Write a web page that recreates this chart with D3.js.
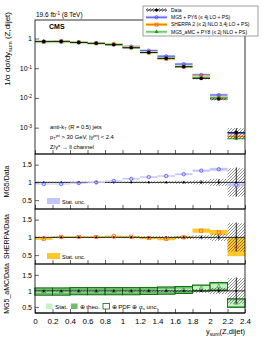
<!DOCTYPE html>
<html>
<head>
<meta charset="utf-8">
<script src="https://cdn.jsdelivr.net/npm/d3@7"></script>
<style>
body { margin: 0; background: #fff; }
text { font-family: "Liberation Sans", Arial, sans-serif; }
</style>
</head>
<body>
<div id="target"></div>
<script>
// bins in y_sum(Z,dijet)
const binEdges = [0, 0.2, 0.4, 0.6, 0.8, 1.0, 1.2, 1.4, 1.6, 1.8, 2.0, 2.2, 2.4];
const xTicks = [0, 0.2, 0.4, 0.6, 0.8, 1, 1.2, 1.4, 1.6, 1.8, 2, 2.2, 2.4];

// normalised cross section (data) and relative uncertainties
const dataVals = [0.80, 0.80, 0.74, 0.69, 0.62, 0.49, 0.34, 0.215, 0.112, 0.045, 0.0092, 0.00069];
const dataStat = [0.005, 0.005, 0.005, 0.006, 0.008, 0.01, 0.012, 0.015, 0.02, 0.03, 0.06, 0.4];
const dataSyst = [0.02, 0.02, 0.02, 0.02, 0.02, 0.025, 0.03, 0.035, 0.045, 0.06, 0.1, 0.4];

// MC / data ratios
const mg5Ratio = [0.955, 0.955, 0.98, 1.0, 1.04, 1.10, 1.15, 1.18, 1.23, 1.33, 1.37, 0.93];
const mg5Stat = [0.015, 0.015, 0.015, 0.015, 0.015, 0.02, 0.02, 0.02, 0.025, 0.03, 0.04, 0.04];
const sherpaRatio = [0.96, 1.01, 1.01, 1.01, 1.03, 1.02, 0.98, 0.96, 1.0, 1.19, 1.14, 0.73];
const sherpaStat = [0.03, 0.02, 0.02, 0.02, 0.02, 0.02, 0.03, 0.04, 0.03, 0.06, 0.07, 0.26];
const amcRatio = [0.98, 0.98, 0.99, 0.99, 0.99, 0.99, 1.0, 1.01, 1.03, 1.09, 1.14, 0.62];
const amcStat = [0.03, 0.03, 0.03, 0.03, 0.03, 0.03, 0.03, 0.04, 0.04, 0.06, 0.07, 0.09];
const amcTheo = [0.1, 0.1, 0.1, 0.1, 0.1, 0.1, 0.1, 0.1, 0.1, 0.08, 0.11, 0.12];
const amcTot = [0.11, 0.11, 0.11, 0.11, 0.11, 0.11, 0.11, 0.11, 0.11, 0.09, 0.12, 0.13];

const yMainTicks = [1, 0.1, 0.01, 0.001];
const yMainLabels = [["1", ""], ["10", "-1"], ["10", "-2"], ["10", "-3"]];
const yRatioTicks = [0.5, 1, 1.5];

const width = 266, height = 344;
const left = 35, right = 245;

const svg = d3.select("#target").append("svg")
    .attr("width", width).attr("height", height);
svg.append("rect").attr("width", width).attr("height", height).attr("fill", "#fff");

const defs = svg.append("defs");
defs.append("pattern").attr("id", "hatch").attr("patternUnits", "userSpaceOnUse")
    .attr("width", 3).attr("height", 3)
    .append("path").attr("d", "M-1,1 l2,-2 M0,3 l3,-3 M2,4 l2,-2")
    .attr("stroke", "#444").attr("stroke-width", 0.6);

const bins = dataVals.map((v, i) => ({
    lo: binEdges[i], hi: binEdges[i + 1], c: (binEdges[i] + binEdges[i + 1]) / 2, i: i
}));

let x = d3.scaleLinear().domain([0, 2.4]).range([left, right]);

let yMain = d3.scaleLog().domain([1.3e-4, 4.2]).range([154, 20]);
let yR1 = d3.scaleLinear().domain([0.25, 1.8]).range([209, 154]);
let yR2 = d3.scaleLinear().domain([0.25, 1.8]).range([264, 209]);
let yR3 = d3.scaleLinear().domain([0.31, 1.84]).range([313, 264]);

const C = {
    mg5: "#3a3aff", mg5Band: "#c4c4ff",
    sh: "#ff5a1f", shBand: "#ffc82a",
    amc: "#1f9a1f", amcBand: "#c6f2c6", amcTheo: "#6cbf6c", amcLine: "#0b6b0b"
};

function rich(t, parts, size) {
    parts.forEach(p => {
        const ts = t.append("tspan").text(p[0]);
        if (p[1] === "sub") ts.attr("font-size", size * 0.7).attr("baseline-shift", "-30%");
        if (p[1] === "sup") ts.attr("font-size", size * 0.7).attr("baseline-shift", "45%");
    });
    return t;
}

// ---------- frames + axes ----------
function xAxis(yPos, labels) {
    const g = svg.append("g").attr("transform", `translate(0,${yPos})`);
    g.call(d3.axisBottom(x).tickValues(d3.range(0, 2.401, 0.05)).tickSize(-2).tickFormat(""));
    g.call(d3.axisBottom(x).tickValues(xTicks).tickSize(-4)
        .tickFormat(labels ? (d => +d.toFixed(1)) : ""));
    g.select(".domain").remove();
    g.selectAll("line").attr("stroke", "#000").attr("stroke-width", 0.6);
    g.selectAll("text").attr("font-size", 8).attr("dy", "1.1em").attr("fill", "#000");
    g.selectAll(".tick text").attr("y", 2);
}

function yRatioAxis(scale) {
    const g = svg.append("g").attr("transform", `translate(${left},0)`);
    const d = scale.domain();
    g.call(d3.axisLeft(scale).tickValues(d3.range(0.3, d[1], 0.1)).tickSize(-2).tickFormat(""));
    g.call(d3.axisLeft(scale).tickValues(yRatioTicks).tickSize(-4).tickFormat(d => d));
    g.select(".domain").remove();
    g.selectAll("line").attr("stroke", "#000").attr("stroke-width", 0.6);
    g.selectAll("text").attr("font-size", 7).attr("fill", "#000").attr("x", -3);
}

// main panel log axis
const gy = svg.append("g").attr("transform", `translate(${left},0)`);
gy.call(d3.axisLeft(yMain).tickValues(yMain.ticks()).tickSize(-2).tickFormat(""));
gy.call(d3.axisLeft(yMain).tickValues(yMainTicks).tickSize(-4).tickFormat(""));
gy.select(".domain").remove();
gy.selectAll("line").attr("stroke", "#000").attr("stroke-width", 0.6);
yMainTicks.forEach((v, i) => {
    const t = svg.append("text").attr("x", left - 3).attr("y", yMain(v) + 2.5)
        .attr("text-anchor", "end").attr("font-size", 7);
    rich(t, [[yMainLabels[i][0]], [yMainLabels[i][1], "sup"]], 7);
});

xAxis(154, false);
xAxis(209, false);
xAxis(264, false);
xAxis(313, true);
yRatioAxis(yR1);
yRatioAxis(yR2);
yRatioAxis(yR3);

// ---------- main panel ----------
const gm = svg.append("g");
function mcMain(ratio, stat, line, band) {
    gm.selectAll(null).data(bins).join("rect")
        .attr("x", d => x(d.lo)).attr("width", d => x(d.hi) - x(d.lo))
        .attr("y", d => yMain(dataVals[d.i] * ratio[d.i]) - 1.2)
        .attr("height", 2.4).attr("fill", band);
    gm.selectAll(null).data(bins).join("line")
        .attr("x1", d => x(d.lo)).attr("x2", d => x(d.hi))
        .attr("y1", d => yMain(dataVals[d.i] * ratio[d.i]))
        .attr("y2", d => yMain(dataVals[d.i] * ratio[d.i]))
        .attr("stroke", line).attr("stroke-width", 0.8);
    gm.selectAll(null).data(bins).join("line")
        .attr("x1", d => x(d.c)).attr("x2", d => x(d.c))
        .attr("y1", d => yMain(dataVals[d.i] * ratio[d.i] * (1 - stat[d.i])))
        .attr("y2", d => yMain(dataVals[d.i] * ratio[d.i] * (1 + stat[d.i])))
        .attr("stroke", line).attr("stroke-width", 0.8);
}
mcMain(mg5Ratio, mg5Stat, C.mg5, C.mg5Band);
mcMain(sherpaRatio, sherpaStat, C.sh, C.shBand);
mcMain(amcRatio, amcStat, C.amc, C.amcBand);

// markers in main panel
gm.selectAll(null).data(bins).join("circle")
    .attr("cx", d => x(d.c)).attr("cy", d => yMain(dataVals[d.i] * mg5Ratio[d.i]))
    .attr("r", 1.6).attr("fill", "none").attr("stroke", C.mg5).attr("stroke-width", 0.7);
gm.selectAll(null).data(bins).join("rect")
    .attr("x", d => x(d.c) - 1.5).attr("y", d => yMain(dataVals[d.i] * sherpaRatio[d.i]) - 1.5)
    .attr("width", 3).attr("height", 3).attr("fill", "none").attr("stroke", C.sh).attr("stroke-width", 0.7);
gm.selectAll(null).data(bins).join("path")
    .attr("transform", d => `translate(${x(d.c)},${yMain(dataVals[d.i] * amcRatio[d.i])})`)
    .attr("d", d3.symbol(d3.symbolTriangle, 7)).attr("fill", C.amc);

// data
gm.selectAll(null).data(bins).join("rect")
    .attr("x", d => x(d.lo)).attr("width", d => x(d.hi) - x(d.lo))
    .attr("y", d => yMain(dataVals[d.i] * (1 + dataSyst[d.i])))
    .attr("height", d => yMain(dataVals[d.i] * (1 - dataSyst[d.i])) - yMain(dataVals[d.i] * (1 + dataSyst[d.i])))
    .attr("fill", "url(#hatch)");
gm.selectAll(null).data(bins).join("line")
    .attr("x1", d => x(d.lo)).attr("x2", d => x(d.hi))
    .attr("y1", d => yMain(dataVals[d.i])).attr("y2", d => yMain(dataVals[d.i]))
    .attr("stroke", "#000").attr("stroke-width", 0.8);
gm.selectAll(null).data(bins).join("line")
    .attr("x1", d => x(d.c)).attr("x2", d => x(d.c))
    .attr("y1", d => yMain(dataVals[d.i] * (1 - dataStat[d.i])))
    .attr("y2", d => yMain(dataVals[d.i] * (1 + dataStat[d.i])))
    .attr("stroke", "#000").attr("stroke-width", 0.8);
gm.selectAll(null).data(bins).join("circle")
    .attr("cx", d => x(d.c)).attr("cy", d => yMain(dataVals[d.i]))
    .attr("r", 1.8).attr("fill", "#000");

// ---------- ratio panels ----------
function dataRatio(ys) {
    const g = svg.append("g");
    g.selectAll(null).data(bins).join("rect")
        .attr("x", d => x(d.lo)).attr("width", d => x(d.hi) - x(d.lo))
        .attr("y", d => ys(1 + dataSyst[d.i]))
        .attr("height", d => ys(1 - dataSyst[d.i]) - ys(1 + dataSyst[d.i]))
        .attr("fill", "url(#hatch)");
    g.append("line").attr("x1", left).attr("x2", right)
        .attr("y1", ys(1)).attr("y2", ys(1)).attr("stroke", "#000").attr("stroke-width", 0.8);
    g.selectAll(null).data(bins).join("line")
        .attr("x1", d => x(d.c)).attr("x2", d => x(d.c))
        .attr("y1", d => ys(1 - dataStat[d.i])).attr("y2", d => ys(1 + dataStat[d.i]) - 0.8)
        .attr("stroke", "#000").attr("stroke-width", 0.8);
    g.selectAll(null).data(bins).join("circle")
        .attr("cx", d => x(d.c)).attr("cy", ys(1)).attr("r", 1).attr("fill", "#000");
    return g;
}

// MG5 panel
const g1 = svg.append("g");
g1.selectAll(null).data(bins).join("rect")
    .attr("x", d => x(d.lo)).attr("width", d => x(d.hi) - x(d.lo))
    .attr("y", d => yR1(mg5Ratio[d.i] + mg5Stat[d.i]))
    .attr("height", d => yR1(mg5Ratio[d.i] - mg5Stat[d.i]) - yR1(mg5Ratio[d.i] + mg5Stat[d.i]))
    .attr("fill", C.mg5Band);
dataRatio(yR1);
g1.raise();
svg.append("g").selectAll(null).data(bins).join("circle")
    .attr("cx", d => x(d.c)).attr("cy", d => yR1(mg5Ratio[d.i]))
    .attr("r", 1.7).attr("fill", "none").attr("stroke", C.mg5).attr("stroke-width", 0.7);

// SHERPA panel
const g2 = svg.append("g");
g2.selectAll(null).data(bins).join("rect")
    .attr("x", d => x(d.lo)).attr("width", d => x(d.hi) - x(d.lo))
    .attr("y", d => yR2(sherpaRatio[d.i] + sherpaStat[d.i]))
    .attr("height", d => yR2(sherpaRatio[d.i] - sherpaStat[d.i]) - yR2(sherpaRatio[d.i] + sherpaStat[d.i]))
    .attr("fill", C.shBand);
dataRatio(yR2);
svg.append("g").selectAll(null).data(bins).join("rect")
    .attr("x", d => x(d.c) - 1.6).attr("y", d => yR2(sherpaRatio[d.i]) - 1.6)
    .attr("width", 3.2).attr("height", 3.2)
    .attr("fill", "none").attr("stroke", C.sh).attr("stroke-width", 0.7);

// MG5_aMC panel
const g3 = svg.append("g");
function amcBox(unc, fill, stroke) {
    g3.selectAll(null).data(bins).join("rect")
        .attr("x", d => x(d.lo)).attr("width", d => x(d.hi) - x(d.lo))
        .attr("y", d => yR3(amcRatio[d.i] + unc[d.i]))
        .attr("height", d => yR3(amcRatio[d.i] - unc[d.i]) - yR3(amcRatio[d.i] + unc[d.i]))
        .attr("fill", fill).attr("stroke", stroke).attr("stroke-width", 0.8);
}
amcBox(amcTot, "none", C.amcLine);
amcBox(amcTheo, C.amcTheo, "none");
amcBox(amcStat, C.amcBand, "none");
amcBox(amcTot, "none", C.amcLine);
dataRatio(yR3);
svg.append("g").selectAll(null).data(bins).join("path")
    .attr("transform", d => `translate(${x(d.c)},${yR3(amcRatio[d.i])})`)
    .attr("d", d3.symbol(d3.symbolTriangle, 6)).attr("fill", "none")
    .attr("stroke", C.amcLine).attr("stroke-width", 0.5);

// frames
[[20, 154], [154, 209], [209, 264], [264, 313]].forEach(p => {
    svg.append("rect").attr("x", left).attr("y", p[0])
        .attr("width", right - left).attr("height", p[1] - p[0])
        .attr("fill", "none").attr("stroke", "#000").attr("stroke-width", 0.8);
});
svg.append("line").attr("x1", left).attr("x2", right).attr("y1", 313).attr("y2", 313)
    .attr("stroke", "#000").attr("stroke-width", 1.2);

// ---------- texts ----------
rich(svg.append("text").attr("x", 36).attr("y", 17).attr("font-size", 6.5),
    [["19.6 fb"], ["-1", "sup"], [" (8 TeV)"]], 6.5);
svg.append("text").attr("x", 49).attr("y", 29).attr("font-size", 7)
    .attr("font-weight", "bold").text("CMS");

rich(svg.append("text").attr("x", 50).attr("y", 129).attr("font-size", 5.8),
    [["anti-k"], ["T", "sub"], [" (R = 0.5) jets"]], 5.8);
rich(svg.append("text").attr("x", 50).attr("y", 139).attr("font-size", 5.8),
    [["p"], ["T", "sub"], ["jet", "sup"], [" > 30 GeV, |y"], ["jet", "sup"], ["| < 2.4"]], 5.8);
svg.append("text").attr("x", 50).attr("y", 148.5).attr("font-size", 5.8)
    .text("Z/\u03b3* \u2192 ll channel");

// y titles
rich(svg.append("text").attr("transform", "translate(10,12) rotate(-90)")
    .attr("text-anchor", "end").attr("font-size", 8),
    [["1/\u03c3 d\u03c3/dy"], ["sum", "sub"], [" (Z,dijet)"]], 8);
[["MG5/Data", 181.5], ["SHERPA/Data", 236.5], ["MG5_aMC/Data", 288.5]].forEach(t => {
    svg.append("text").attr("transform", `translate(9,${t[1]}) rotate(-90)`)
        .attr("text-anchor", "middle").attr("font-size", 7).text(t[0]);
});
// x title
rich(svg.append("text").attr("x", right).attr("y", 334).attr("text-anchor", "end")
    .attr("font-size", 7.5), [["y"], ["sum", "sub"], ["(Z,dijet)"]], 7.5);

// ratio legends
svg.append("rect").attr("x", 47).attr("y", 198).attr("width", 13).attr("height", 6).attr("fill", C.mg5Band);
svg.append("text").attr("x", 62).attr("y", 203.5).attr("font-size", 5.5).text("Stat. unc.");
svg.append("rect").attr("x", 47).attr("y", 253).attr("width", 13).attr("height", 6).attr("fill", C.shBand);
svg.append("text").attr("x", 62).attr("y", 258.5).attr("font-size", 5.5).text("Stat. unc.");
svg.append("rect").attr("x", 46).attr("y", 303.5).attr("width", 6.5).attr("height", 5.5).attr("fill", C.amcBand);
svg.append("text").attr("x", 55).attr("y", 309).attr("font-size", 6.2).text("Stat.");
svg.append("rect").attr("x", 71).attr("y", 303.5).attr("width", 6.5).attr("height", 5.5).attr("fill", C.amcTheo);
svg.append("text").attr("x", 79.5).attr("y", 309).attr("font-size", 6.2).text("\u2295 theo.");
svg.append("rect").attr("x", 103).attr("y", 303.5).attr("width", 6.5).attr("height", 5.5)
    .attr("fill", "none").attr("stroke", C.amcLine).attr("stroke-width", 0.8);
rich(svg.append("text").attr("x", 111.5).attr("y", 309).attr("font-size", 6.2),
    [["\u2295 PDF \u2295 \u03b1"], ["s", "sub"], [" unc."]], 6.2);

// main legend
svg.append("rect").attr("x", 143).attr("y", 6).attr("width", 115).attr("height", 30)
    .attr("fill", "#fff").attr("stroke", "#777").attr("stroke-width", 0.7);
const legX0 = 146, legX1 = 167;
const legItems = [
    { y: 10, name: "Data" },
    { y: 17.3, name: "MG5 + PY6 (\u2264 4j LO + PS)" },
    { y: 24.6, name: "SHERPA 2 (\u2264 2j NLO 3,4j LO + PS)" },
    { y: 31.9, name: "MG5_aMC + PY8 (\u2264 2j NLO + PS)" }
];
svg.append("rect").attr("x", legX0).attr("y", 8).attr("width", legX1 - legX0).attr("height", 4)
    .attr("fill", "url(#hatch)");
svg.append("rect").attr("x", legX0).attr("y", 15.8).attr("width", legX1 - legX0).attr("height", 3).attr("fill", C.mg5Band);
svg.append("rect").attr("x", legX0).attr("y", 23.1).attr("width", legX1 - legX0).attr("height", 3).attr("fill", C.shBand);
svg.append("rect").attr("x", legX0).attr("y", 30.4).attr("width", legX1 - legX0).attr("height", 3).attr("fill", C.amcBand);
[["#000", 0], [C.mg5, 1], [C.sh, 2], [C.amc, 3]].forEach(p => {
    const it = legItems[p[1]];
    svg.append("line").attr("x1", legX0).attr("x2", legX1).attr("y1", it.y).attr("y2", it.y)
        .attr("stroke", p[0]).attr("stroke-width", 0.8);
});
svg.append("circle").attr("cx", 156.5).attr("cy", 10).attr("r", 1.6).attr("fill", "#000");
svg.append("circle").attr("cx", 156.5).attr("cy", 17.3).attr("r", 1.6)
    .attr("fill", "none").attr("stroke", C.mg5).attr("stroke-width", 0.7);
svg.append("rect").attr("x", 155).attr("y", 23.1).attr("width", 3).attr("height", 3)
    .attr("fill", "none").attr("stroke", C.sh).attr("stroke-width", 0.7);
svg.append("path").attr("transform", "translate(156.5,31.9)")
    .attr("d", d3.symbol(d3.symbolTriangle, 7)).attr("fill", C.amc);
legItems.forEach(it => {
    svg.append("text").attr("x", 171).attr("y", it.y + 1.8).attr("font-size", 5).text(it.name);
});
</script>
</body>
</html>
